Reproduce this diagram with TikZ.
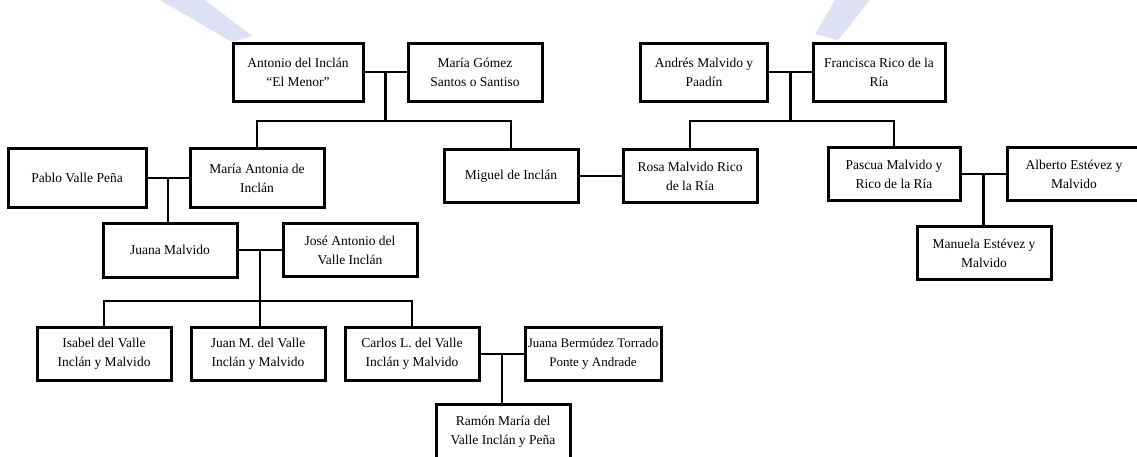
\documentclass[tikz,border=0pt]{standalone}
\usepackage{fontspec}
\setmainfont{Liberation Serif}
\usetikzlibrary{calc}
\definecolor{wmark}{RGB}{220,226,243}
\begin{document}
\begin{tikzpicture}[x=1pt,y=-1pt,
  person/.style={draw, line width=3pt, fill=white, align=center, inner sep=0pt,
    minimum height=56pt, minimum width=134pt, font=\fontsize{13.5}{19}\selectfont},
  link/.style={line width=2.6pt}]
\useasboundingbox (0,0) rectangle (1137,456);
\clip (0,0) rectangle (1137,456);
\fill[white] (0,0) rectangle (1137,456);

% faint watermark bands
\fill[wmark] (160,0) -- (205,0) -- (252,36) -- (232,42) -- cycle;
\fill[wmark] (835,0) -- (870,0) -- (838,40) -- (815,34) -- cycle;

% generation 1
\node[person, minimum width=130pt, minimum height=58pt] (antonio) at (298,72) {Antonio del Inclán\\“El Menor”};
\node[person, minimum height=58pt] (mgomez) at (475,72) {María Gómez\\Santos o Santiso};
\node[person, minimum width=127pt, minimum height=58pt] (andres) at (704,72) {Andrés Malvido y\\Paadín};
\node[person, minimum width=132pt, minimum height=58pt] (francisca) at (879,72) {Francisca Rico de la\\Ría};

% generation 2
\node[person, minimum width=138pt, minimum height=59pt] (pablo) at (77,178) {Pablo Valle Peña};
\node[person, minimum height=59pt] (mantonia) at (257,178) {María Antonia de\\Inclán};
\node[person, minimum height=53pt] (miguel) at (511,176) {Miguel de Inclán};
\node[person, minimum height=53pt] (rosa) at (690,176) {Rosa Malvido Rico\\de la Ría};
\node[person, minimum width=132pt, minimum height=53pt] (pascua) at (894,174) {Pascua Malvido y\\Rico de la Ría};
\node[person, minimum height=53pt] (alberto) at (1074,174) {Alberto Estévez y\\Malvido};

% generation 3
\node[person, minimum height=54pt] (juana) at (170,250) {Juana Malvido};
\node[person, minimum height=53pt] (jose) at (350,250) {José Antonio del\\Valle Inclán};
\node[person, minimum height=53pt] (manuela) at (984,253) {Manuela Estévez y\\Malvido};

% generation 4
\node[person, minimum height=53pt] (isabel) at (104,354) {Isabel del Valle\\Inclán y Malvido};
\node[person, minimum height=53pt] (juanm) at (258,354) {Juan M. del Valle\\Inclán y Malvido};
\node[person, minimum height=53pt] (carlos) at (412,354) {Carlos L. del Valle\\Inclán y Malvido};
\node[person, minimum width=136pt, minimum height=53pt, font=\fontsize{13}{19}\selectfont] (jbermudez) at (593,354) {Juana Bermúdez Torrado\\Ponte y Andrade};

% generation 5
\node[person, minimum height=56pt] (ramon) at (503,432) {Ramón María del\\Valle Inclán y Peña};

% couples and descent
\draw[link] (antonio.east) -- (mgomez.west);
\coordinate (c1) at ($(antonio.east)!0.5!(mgomez.west)$);
\coordinate (h1) at ($(c1)+(0,49)$);
\draw[link] (c1) -- (h1);
\draw[link] (mantonia.north) |- (h1) -| (miguel.north);

\draw[link] (andres.east) -- (francisca.west);
\coordinate (c2) at ($(andres.east)!0.5!(francisca.west)$);
\coordinate (h2) at ($(c2)+(0,49)$);
\draw[link] (c2) -- (h2);
\draw[link] (rosa.north) |- (h2) -| (pascua.north);

\draw[link] (pablo.east) -- (mantonia.west);
\coordinate (c3) at ($(pablo.east)!0.5!(mantonia.west)$);
\draw[link] (c3) -- (c3 |- juana.north);

\draw[link] (miguel.east) -- (rosa.west);

\draw[link] (pascua.east) -- (alberto.west);
\coordinate (c4) at ($(pascua.east)!0.5!(alberto.west)$);
\draw[link] (c4) -- (c4 |- manuela.north);

\draw[link] (juana.east) -- (jose.west);
\coordinate (c5) at ($(juana.east)!0.5!(jose.west)$);
\coordinate (h5) at (c5 |- 0,301);
\draw[link] (c5) -- (c5 |- juanm.north);
\draw[link] (isabel.north) |- (h5) -| (carlos.north);

\draw[link] (carlos.east) -- (jbermudez.west);
\coordinate (c6) at ($(carlos.east)!0.5!(jbermudez.west)$);
\draw[link] (c6) -- (c6 |- ramon.north);
\end{tikzpicture}
\end{document}
